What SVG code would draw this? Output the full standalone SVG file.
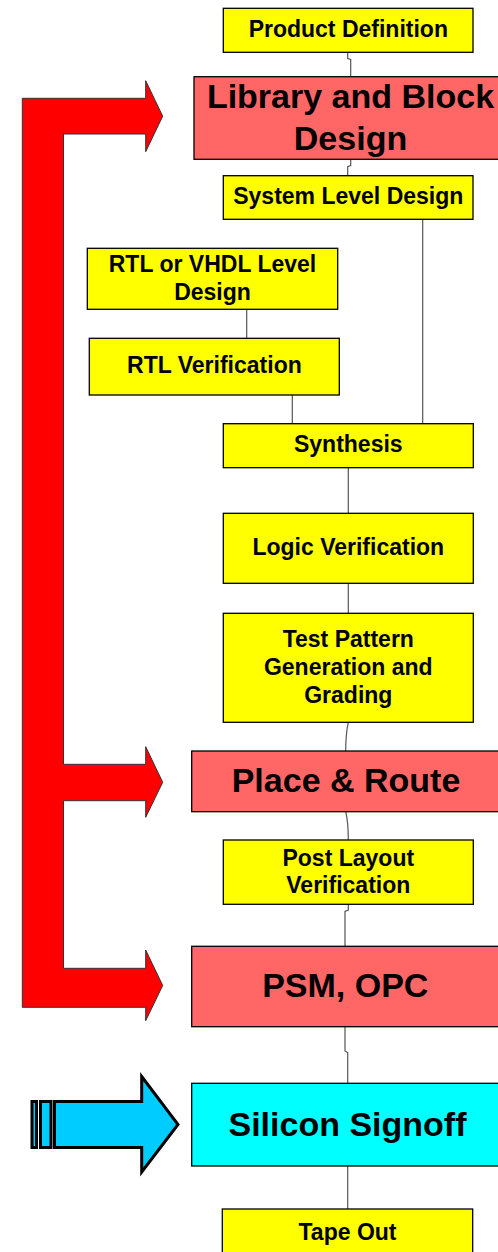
<svg xmlns="http://www.w3.org/2000/svg" width="498" height="1252" viewBox="0 0 498 1252">
  <style>
    .step { fill: #FFFF00; stroke: #000; stroke-width: 1.3; }
    .major { fill: #FF6666; stroke: #000; stroke-width: 1.3; }
    .signoff { fill: #00FFFF; stroke: #000; stroke-width: 1.3; }
    .t { font-family: "Liberation Sans", Arial, sans-serif; font-weight: bold; fill: #000; text-anchor: middle; }
    .s { font-size: 23px; }
    .l { font-size: 34px; }
    .wire { fill: none; stroke: #555; stroke-width: 1.2; }
  </style>

  <!-- flow connectors -->
  <g id="connectors">
    <path class="wire" d="M347.7 52.3 V58.5 L350.7 59.5 V76.7"/>
    <path class="wire" d="M350.7 159.3 V165.5 L347.7 166.7 V175.7"/>
    <path class="wire" d="M422.7 219.3 V423.7"/>
    <path class="wire" d="M246.7 309.3 V338.3"/>
    <path class="wire" d="M292.3 395 V423.7"/>
    <path class="wire" d="M348.3 467.7 V513.3"/>
    <path class="wire" d="M348.3 583.3 V613.3"/>
    <path class="wire" d="M348.3 722.3 Q345.7 734 345.7 751"/>
    <path class="wire" d="M345.7 811.7 Q348.3 822 348.3 840"/>
    <path class="wire" d="M348.3 904.3 V910 L345 911.5 V946"/>
    <path class="wire" d="M345 1026.7 V1051 L347.7 1052.5 V1083.3"/>
    <path class="wire" d="M347.7 1166 V1209"/>
  </g>

  <!-- feedback bracket arrow feeding the three major stages -->
  <g id="feedback-arrow">
    <path fill="#FF0000" stroke="#333" stroke-width="1" stroke-linejoin="miter"
          d="M22.3 98.3 H145.7 V80.7 L162.7 116.2 L145.7 151.7 V134 H63.5 V764.3 H145.7 V746.7 L162.7 782.3 L145.7 817.3 V800.7 H63.5 V968.3 H145.7 V950 L162.7 985.5 L145.7 1020.7 V1007.3 H22.3 Z"/>
  </g>

  <!-- striped arrow pointing at signoff -->
  <g id="signoff-arrow" fill="#00CCFF" stroke="#000" stroke-width="3" stroke-linejoin="miter">
    <rect x="32" y="1101.5" width="4.5" height="46"/>
    <rect x="40.5" y="1101.5" width="10.5" height="46"/>
    <path d="M54.5 1101.5 H141.7 V1076.5 L178 1124.5 L141.7 1172 V1147.5 H54.5 Z"/>
  </g>

  <g id="product-definition">
    <rect class="step" x="223.3" y="8.3" width="249.7" height="44"/>
    <text class="t s" x="348.3" y="37.3">Product Definition</text>
  </g>

  <g id="library-block-design">
    <rect class="major" x="194" y="76.7" width="320" height="82.6"/>
    <text class="t l" x="350.5" y="108.3">Library and Block</text>
    <text class="t l" x="350.5" y="150">Design</text>
  </g>

  <g id="system-level-design">
    <rect class="step" x="223.3" y="175.7" width="249.7" height="43.6"/>
    <text class="t s" x="348.3" y="204.3">System Level Design</text>
  </g>

  <g id="rtl-vhdl-design">
    <rect class="step" x="87.3" y="248.3" width="250.4" height="61"/>
    <text class="t s" x="212.5" y="272.3">RTL or VHDL Level</text>
    <text class="t s" x="212.5" y="300">Design</text>
  </g>

  <g id="rtl-verification">
    <rect class="step" x="89.3" y="338.3" width="250" height="56.7"/>
    <text class="t s" x="214.4" y="373.3">RTL Verification</text>
  </g>

  <g id="synthesis">
    <rect class="step" x="223.3" y="423.7" width="250" height="44"/>
    <text class="t s" x="348.3" y="452.3">Synthesis</text>
  </g>

  <g id="logic-verification">
    <rect class="step" x="223.3" y="513.3" width="250" height="70"/>
    <text class="t s" x="348.3" y="555">Logic Verification</text>
  </g>

  <g id="test-pattern">
    <rect class="step" x="223.3" y="613.3" width="250" height="109"/>
    <text class="t s" x="348.3" y="646.7">Test Pattern</text>
    <text class="t s" x="348.3" y="675">Generation and</text>
    <text class="t s" x="348.3" y="702.7">Grading</text>
  </g>

  <g id="place-route">
    <rect class="major" x="191.7" y="751" width="320" height="60.7"/>
    <text class="t l" x="346" y="791.7">Place &amp; Route</text>
  </g>

  <g id="post-layout-verification">
    <rect class="step" x="223.3" y="840" width="250" height="64.3"/>
    <text class="t s" x="348.3" y="866">Post Layout</text>
    <text class="t s" x="348.3" y="893.3">Verification</text>
  </g>

  <g id="psm-opc">
    <rect class="major" x="191.7" y="946.3" width="320" height="80.4"/>
    <text class="t l" x="345.3" y="996.7">PSM, OPC</text>
  </g>

  <g id="silicon-signoff">
    <rect class="signoff" x="191.7" y="1083.3" width="320" height="82.7"/>
    <text class="t l" x="347.5" y="1135.7">Silicon Signoff</text>
  </g>

  <g id="tape-out">
    <rect class="step" x="222.3" y="1209" width="250.4" height="60"/>
    <text class="t s" x="347.5" y="1240">Tape Out</text>
  </g>
</svg>
